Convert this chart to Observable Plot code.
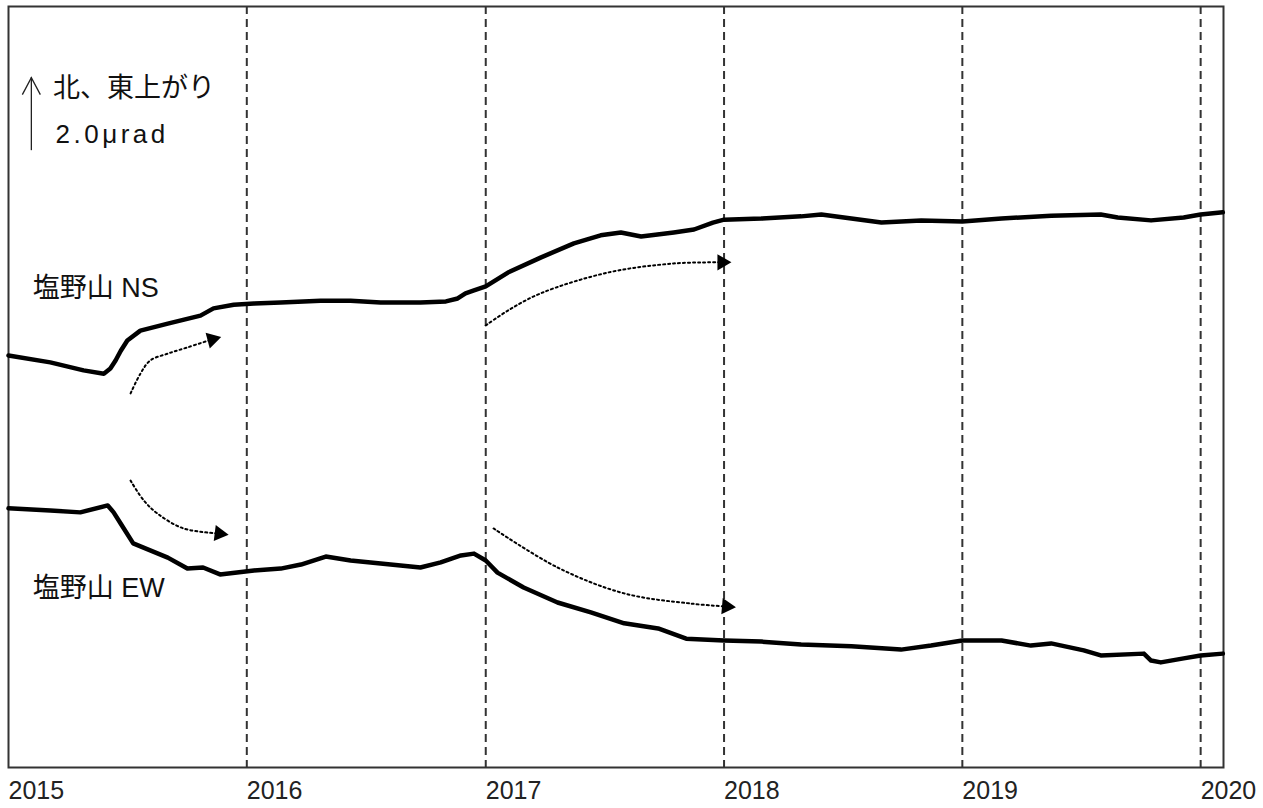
<!DOCTYPE html>
<html>
<head>
<meta charset="utf-8">
<script src="https://cdn.jsdelivr.net/npm/d3@7"></script>
<script src="https://cdn.jsdelivr.net/npm/@observablehq/plot@0.6"></script>
<style>
  body { margin: 0; background: #fff; }
  .spaced text { letter-spacing: 3.5px; }
</style>
</head>
<body>
<div id="chart"></div>
<script>
// ---- tick labels (years) ----
const years = [2015, 2016, 2017, 2018, 2019, 2020];

// ---- 塩野山 NS (µrad, arbitrary offset) ----
const nsDates = ["2015-01-01","2015-03-06","2015-04-26","2015-05-27","2015-06-06","2015-06-14","2015-06-22","2015-07-02","2015-07-22","2015-09-02","2015-10-22","2015-11-11","2015-12-12",
  "2016-01-12","2016-02-22","2016-04-23","2016-06-08","2016-07-24","2016-09-23","2016-11-01","2016-11-19","2016-12-01","2016-12-14",
  "2017-01-01","2017-02-04","2017-03-26","2017-05-16","2017-06-26","2017-07-27","2017-08-27","2017-10-16","2017-11-16","2017-12-15",
  "2018-01-01","2018-02-27","2018-04-29","2018-05-30","2018-07-15","2018-08-30","2018-10-30",
  "2019-01-01","2019-03-02","2019-05-17","2019-08-01","2019-08-27","2019-10-17","2019-12-06",
  "2020-01-01","2020-02-04"];
const nsValues = [11.29,11.10,10.88,10.79,10.93,11.15,11.42,11.70,11.97,12.16,12.38,12.58,12.68,
  12.71,12.74,12.79,12.79,12.74,12.74,12.77,12.85,12.99,13.07,
  13.18,13.56,13.97,14.36,14.58,14.66,14.55,14.66,14.74,14.93,
  15.01,15.04,15.10,15.15,15.04,14.93,14.99,
  14.96,15.04,15.12,15.15,15.07,14.99,15.07,
  15.15,15.21];

// ---- 塩野山 EW ----
const ewDates = ["2015-01-01","2015-03-06","2015-04-21","2015-06-02","2015-06-11","2015-06-22","2015-07-11","2015-08-06","2015-09-02","2015-10-02","2015-10-26","2015-11-21",
  "2016-01-12","2016-02-22","2016-03-24","2016-05-01","2016-06-08","2016-07-24","2016-09-23","2016-10-24","2016-11-24","2016-12-14",
  "2017-01-01","2017-01-19","2017-02-28","2017-04-21","2017-06-11","2017-08-01","2017-09-22","2017-11-04",
  "2018-01-01","2018-02-27","2018-04-29","2018-07-15","2018-09-29","2018-11-14",
  "2019-01-01","2019-03-02","2019-04-16","2019-05-17","2019-07-06","2019-08-01","2019-10-06","2019-10-17","2019-11-01","2019-12-06",
  "2020-01-01","2020-02-04"];
const ewValues = [7.10,7.04,6.99,7.18,6.99,6.68,6.14,5.95,5.75,5.45,5.48,5.29,
  5.40,5.45,5.56,5.78,5.67,5.59,5.48,5.62,5.81,5.86,
  5.67,5.34,4.93,4.52,4.25,3.95,3.81,3.53,
  3.48,3.45,3.37,3.32,3.23,3.34,
  3.48,3.48,3.34,3.40,3.21,3.07,3.12,2.93,2.88,2.99,
  3.07,3.12];

// ---- dotted trend arrows ----
const arrowIds = ["NS1","NS1","NS1","NS1","NS1","NS1",
  "NS2","NS2","NS2","NS2","NS2","NS2",
  "EW1","EW1","EW1","EW1","EW1",
  "EW2","EW2","EW2","EW2","EW2"];
const arrowDates = ["2015-07-07","2015-07-22","2015-08-06","2015-09-02","2015-10-02","2015-11-09",
  "2017-01-01","2017-02-04","2017-03-26","2017-07-07","2017-10-16","2017-12-29",
  "2015-07-07","2015-07-27","2015-08-17","2015-09-26","2015-11-20",
  "2017-01-13","2017-04-21","2017-08-01","2017-11-12","2018-01-05"];
const arrowValues = [10.25,10.79,11.15,11.34,11.51,11.73,
  12.11,12.52,12.99,13.56,13.81,13.84,
  7.86,7.32,6.96,6.55,6.41,
  6.55,5.48,4.77,4.49,4.41];

// ---- text annotations ----
const labelTexts = ["北、東上がり", "塩野山 NS", "塩野山 EW"];
const labelDates = ["2015-03-10", "2015-02-07", "2015-02-07"];
const labelValues = [18.36, 12.88, 4.68];
const unitText = "2.0μrad";
const unitDate = "2015-03-14";
const unitValue = 17.10;

// ---- 2.0 µrad scale bar ----
const scaleBarDate = "2015-02-05";
const scaleBarFrom = 16.90;
const scaleBarTo = 18.90;

// ---- build tables ----
const D = s => new Date(s);
const ns = nsDates.map((d, i) => ({date: D(d), value: nsValues[i]}));
const ew = ewDates.map((d, i) => ({date: D(d), value: ewValues[i]}));
const arrows = arrowDates.map((d, i) => ({id: arrowIds[i], date: D(d), value: arrowValues[i]}));
const heads = d3.groups(arrows, a => a.id).map(([id, pts]) => pts[pts.length - 1]);
const headRotate = {NS1: 75, NS2: 90, EW1: 97, EW2: 95};
const labels = labelTexts.map((t, i) => ({text: t, date: D(labelDates[i]), value: labelValues[i]}));
const yearDates = years.map(y => new Date(Date.UTC(y, 0, 1)));
const scaleBar = [{x: D(scaleBarDate), y1: scaleBarFrom, y2: scaleBarTo}];

// open "V" arrowhead, tip at the symbol's origin
const openHead = {draw(context) { context.moveTo(-9, 17); context.lineTo(0, 0); context.lineTo(9, 17); }};

const latin = "'Liberation Sans', 'Noto Sans CJK JP', sans-serif";

const chart = Plot.plot({
  width: 1263,
  height: 808,
  marginLeft: 8,
  marginRight: 40,
  marginTop: 6,
  marginBottom: 41,
  x: {type: "utc", domain: [D("2015-01-01"), D("2020-02-05")]},
  y: {domain: [0, 20.85], axis: null},
  style: {background: "#fff", fontFamily: "'Noto Sans CJK JP', sans-serif"},
  marks: [
    Plot.ruleX(yearDates.slice(1), {stroke: "#333", strokeWidth: 2, strokeDasharray: "8,5"}),
    Plot.frame({stroke: "#333", strokeWidth: 2}),
    Plot.axisX({
      ticks: yearDates,
      tickFormat: d3.utcFormat("%Y"),
      tickSize: 0,
      tickPadding: 14,
      textAnchor: "start",
      fontSize: 25,
      fontFamily: "'Liberation Sans', sans-serif",
      fill: "#222"
    }),
    Plot.line(ns, {x: "date", y: "value", stroke: "#000", strokeWidth: 4.5, strokeLinejoin: "round"}),
    Plot.line(ew, {x: "date", y: "value", stroke: "#000", strokeWidth: 4.5, strokeLinejoin: "round"}),
    Plot.line(arrows, {x: "date", y: "value", z: "id", curve: "catmull-rom", stroke: "#000", strokeWidth: 2, strokeDasharray: "2,3"}),
    Plot.dot(heads, {x: "date", y: "value", symbol: "triangle", r: 6, fill: "#000", stroke: "none", rotate: d => headRotate[d.id]}),
    Plot.ruleX(scaleBar, {x: "x", y1: "y1", y2: "y2", stroke: "#222", strokeWidth: 1.3}),
    Plot.dot(scaleBar, {x: "x", y: "y2", symbol: openHead, r: 5, fill: "none", stroke: "#222", strokeWidth: 1.3}),
    Plot.text(labels, {x: "date", y: "value", text: "text", textAnchor: "start", lineAnchor: "bottom", fontSize: 27, fontFamily: latin, fill: "#111"}),
    Plot.text([{text: unitText, date: D(unitDate), value: unitValue}], {
      x: "date", y: "value", text: "text", textAnchor: "start", lineAnchor: "bottom", fontSize: 26,
      fontFamily: "'Liberation Sans', 'DejaVu Sans', sans-serif", fill: "#111", className: "spaced"
    })
  ]
});
document.getElementById("chart").appendChild(chart);
</script>
</body>
</html>
